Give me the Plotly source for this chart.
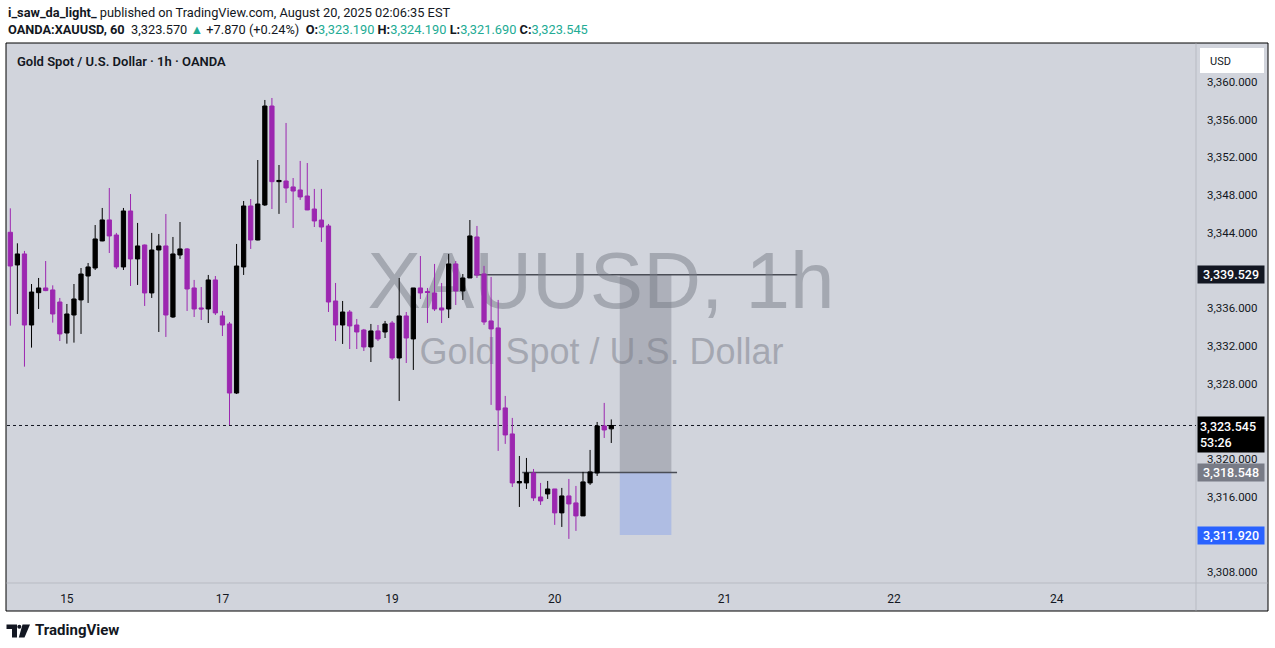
import plotly.graph_objects as go

# ---------------- data ----------------
opens = [3344.05, 3340.58, 3341.75, 3334.21, 3337.64, 3338.14, 3337.93, 3336.65, 3333.36, 3335.27,
         3336.87, 3339.41, 3340.26, 3343.13, 3345.36, 3343.76, 3340.37, 3346.31, 3341.22, 3342.70,
         3337.61, 3342.17, 3342.60, 3335.06, 3341.64, 3342.28, 3338.14, 3336.02, 3335.91, 3338.99,
         3335.17, 3334.32, 3326.99, 3340.37, 3346.84, 3343.23, 3346.95, 3357.45, 3349.42, 3349.49,
         3348.86, 3348.54, 3347.90, 3346.52, 3345.35, 3344.72, 3336.76, 3334.21, 3335.59, 3334.21,
         3333.68, 3331.88, 3333.58, 3333.47, 3334.42, 3330.71, 3335.17, 3332.73, 3338.14, 3337.76,
         3337.61, 3336.02, 3335.91, 3340.69, 3337.82, 3339.20, 3343.55, 3339.63, 3334.64, 3333.90,
         3325.41, 3322.65, 3317.45, 3317.45, 3318.51, 3315.96, 3316.28, 3316.81, 3314.27, 3316.07,
         3315.33, 3313.95, 3317.45, 3318.51, 3323.50, 3323.19]
highs = [3346.59, 3342.88, 3342.07, 3338.56, 3339.20, 3341.00, 3338.42, 3337.08, 3336.44, 3338.56,
         3340.26, 3340.79, 3344.82, 3346.63, 3348.75, 3343.98, 3346.63, 3348.11, 3345.04, 3342.75,
         3343.98, 3343.87, 3345.99, 3343.55, 3345.14, 3342.38, 3338.99, 3338.24, 3339.52, 3339.41,
         3335.70, 3334.53, 3342.81, 3347.37, 3347.58, 3351.72, 3358.09, 3358.30, 3351.19, 3355.65,
         3349.81, 3351.62, 3351.40, 3348.65, 3348.65, 3344.93, 3338.67, 3336.76, 3335.80, 3334.85,
         3333.79, 3334.32, 3334.21, 3334.64, 3334.64, 3339.20, 3335.59, 3338.14, 3341.53, 3338.14,
         3340.69, 3338.67, 3341.75, 3341.00, 3339.62, 3345.35, 3344.72, 3340.48, 3339.31, 3336.87,
         3326.68, 3324.35, 3320.31, 3320.10, 3318.93, 3317.45, 3317.66, 3316.81, 3316.92, 3317.87,
         3317.13, 3318.62, 3320.95, 3323.92, 3325.94, 3324.19]
lows = [3334.14, 3335.38, 3329.79, 3331.81, 3335.91, 3337.80, 3334.46, 3332.51, 3332.23, 3332.34,
        3333.26, 3336.55, 3340.05, 3343.10, 3341.85, 3340.16, 3340.05, 3338.35, 3338.46, 3336.23,
        3337.08, 3333.47, 3332.94, 3334.96, 3341.22, 3335.70, 3335.06, 3334.74, 3334.42, 3335.27,
        3333.04, 3323.60, 3326.89, 3339.52, 3342.28, 3343.20, 3346.84, 3346.52, 3346.00, 3347.16,
        3344.51, 3347.48, 3346.40, 3344.61, 3343.02, 3335.59, 3332.51, 3332.20, 3331.66, 3331.66,
        3331.45, 3330.28, 3332.51, 3332.83, 3330.50, 3326.15, 3330.18, 3329.44, 3336.97, 3334.42,
        3335.70, 3334.42, 3334.95, 3336.33, 3336.86, 3339.20, 3339.20, 3334.22, 3325.73, 3320.85,
        3321.59, 3317.02, 3314.90, 3316.81, 3315.54, 3315.11, 3315.75, 3313.00, 3312.78, 3311.51,
        3312.36, 3313.95, 3317.24, 3318.19, 3322.22, 3321.69]
closes = [3340.47, 3341.75, 3334.21, 3337.71, 3338.14, 3337.86, 3335.38, 3333.26, 3335.38, 3336.97,
          3339.62, 3340.37, 3343.34, 3345.36, 3343.66, 3340.37, 3346.31, 3341.22, 3342.60, 3337.61,
          3342.17, 3342.60, 3335.27, 3341.75, 3342.28, 3338.03, 3335.91, 3335.91, 3338.99, 3335.49,
          3334.21, 3326.99, 3340.47, 3346.84, 3343.23, 3347.05, 3357.45, 3349.42, 3349.55, 3348.75,
          3348.43, 3347.80, 3346.42, 3345.25, 3344.61, 3336.65, 3334.21, 3335.59, 3334.11, 3333.47,
          3331.88, 3333.58, 3332.73, 3334.32, 3330.71, 3335.17, 3332.83, 3338.14, 3337.61, 3337.66,
          3335.91, 3335.80, 3340.69, 3337.82, 3339.20, 3343.66, 3339.52, 3334.53, 3333.79, 3325.20,
          3322.54, 3317.45, 3317.60, 3318.51, 3315.86, 3315.54, 3316.81, 3314.27, 3316.07, 3315.22,
          3313.95, 3317.56, 3318.62, 3323.50, 3323.07, 3323.545]
bars = list(range(len(opens)))

day_labels = ["15", "17", "19", "20", "21", "22", "24"]
day_label_bars = [8, 30, 54, 77, 101, 125, 148]

price_ticks = [3308, 3316, 3320, 3324, 3328, 3332, 3336, 3340, 3344, 3348, 3352, 3356, 3360]

level_prices = [3339.529, 3318.548]
level_start_bars = [65.6, 72.4]
level_end_bars = [111.3, 94.3]
zone_bars = [86.2, 93.5]
zone_top, zone_mid, zone_bottom = 3339.529, 3318.548, 3311.920
last_price = 3323.545
countdown = "53:26"

# ---------------- geometry helpers ----------------
W, H = 1275, 648
L, R, T, B = 7, 1196, 44, 583
XR = [-0.47, 167.7]
YR = [3306.83, 3364.03]


def fx(p):
    return (p - L) / (R - L)


def fy(p):
    return (B - p) / (B - T)


def dx(p):
    return XR[0] + (p - L) / (R - L) * (XR[1] - XR[0])


def dy(p):
    return YR[1] - (p - T) / (B - T) * (YR[1] - YR[0])


UI = "Roboto, 'Open Sans', sans-serif"
TXT = "#131722"
BG = "#d1d4dc"
UP = "#000000"
DOWN = "#9c27b0"
TEAL = "#22ab94"

fig = go.Figure()

# watermark (under candles: main axes; candles on overlaid axes)
fig.add_trace(go.Scatter(
    x=[dx(601), dx(601.5)], y=[dy(288), dy(355)],
    mode="text", text=["XAUUSD, 1h", "Gold Spot / U.S. Dollar"],
    textposition="middle center",
    textfont=dict(family="'Liberation Sans', Arial, sans-serif", size=[80, 36],
                  color="rgba(120,123,134,0.5)"),
    hoverinfo="skip", showlegend=False, xaxis="x", yaxis="y"))

fig.add_trace(go.Candlestick(
    x=bars, open=opens, high=highs, low=lows, close=closes,
    increasing=dict(line=dict(color=UP, width=1), fillcolor=UP),
    decreasing=dict(line=dict(color=DOWN, width=1), fillcolor=DOWN),
    whiskerwidth=0, showlegend=False, xaxis="x2", yaxis="y2"))

shapes = []
# frame / background
shapes.append(dict(type="rect", xref="paper", yref="paper", x0=fx(6), x1=fx(1268), y0=fy(611), y1=fy(43),
                   fillcolor=BG, line=dict(color="#000000", width=1), layer="below"))
shapes.append(dict(type="line", xref="paper", yref="paper", x0=fx(1196), x1=fx(1196), y0=fy(610.5), y1=fy(43.5),
                   line=dict(color="#b8bbc3", width=1), layer="below"))
shapes.append(dict(type="line", xref="paper", yref="paper", x0=fx(6.5), x1=fx(1267.5), y0=fy(583), y1=fy(583),
                   line=dict(color="#b8bbc3", width=1), layer="below"))
# zones
shapes.append(dict(type="rect", xref="x", yref="y", x0=zone_bars[0], x1=zone_bars[1], y0=zone_mid, y1=zone_top,
                   fillcolor="rgba(120,123,134,0.4)", line=dict(width=0), layer="below"))
shapes.append(dict(type="rect", xref="x", yref="y", x0=zone_bars[0], x1=zone_bars[1], y0=zone_bottom, y1=zone_mid,
                   fillcolor="rgba(41,98,255,0.2)", line=dict(width=0), layer="below"))
# horizontal levels
for p, a, b in zip(level_prices, level_start_bars, level_end_bars):
    shapes.append(dict(type="line", xref="x", yref="y", x0=a, x1=b, y0=p, y1=p,
                       line=dict(color="#4a4d56", width=1.5), layer="below"))
# last price dotted line
shapes.append(dict(type="line", xref="paper", yref="y", x0=0, x1=1, y0=last_price, y1=last_price,
                   line=dict(color=TXT, width=1, dash="dot"), layer="below"))
# USD box
shapes.append(dict(type="rect", xref="paper", yref="paper", x0=fx(1200), x1=fx(1264), y0=fy(73), y1=fy(48),
                   fillcolor="#ffffff", line=dict(width=0), layer="above"))
# TradingView logo
shapes.append(dict(type="path", xref="paper", yref="paper", layer="above",
                   path=f"M {fx(6.5)},{fy(624.5)} L {fx(17)},{fy(624.5)} L {fx(17)},{fy(637.5)} "
                        f"L {fx(12)},{fy(637.5)} L {fx(12)},{fy(629)} L {fx(6.5)},{fy(629)} Z",
                   fillcolor=TXT, line=dict(width=0)))
shapes.append(dict(type="circle", xref="paper", yref="paper", layer="above",
                   x0=fx(17.3), x1=fx(21.3), y0=fy(628.8), y1=fy(624.8), fillcolor=TXT, line=dict(width=0)))
shapes.append(dict(type="path", xref="paper", yref="paper", layer="above",
                   path=f"M {fx(22.5)},{fy(624.5)} L {fx(30)},{fy(624.5)} L {fx(24.5)},{fy(637.5)} "
                        f"L {fx(18.8)},{fy(637.5)} Z",
                   fillcolor=TXT, line=dict(width=0)))

annotations = []
# header
annotations.append(dict(xref="paper", yref="paper", x=fx(6), y=fy(12), xanchor="left", yanchor="middle",
                        showarrow=False, font=dict(family=UI, size=12.8, color=TXT),
                        text="<b>i_saw_da_light_</b> published on TradingView.com, August 20, 2025 02:06:35 EST"))
hdr2 = (f"<b>OANDA:XAUUSD, 60</b>  3,323.570 <span style='color:{TEAL}'>▲</span> +7.870 (+0.24%)  "
        f"<b>O:</b><span style='color:{TEAL}'>3,323.190</span> "
        f"<b>H:</b><span style='color:{TEAL}'>3,324.190</span> "
        f"<b>L:</b><span style='color:{TEAL}'>3,321.690</span> "
        f"<b>C:</b><span style='color:{TEAL}'>3,323.545</span>")
annotations.append(dict(xref="paper", yref="paper", x=fx(6), y=fy(29), xanchor="left", yanchor="middle",
                        showarrow=False, font=dict(family=UI, size=12.8, color=TXT), text=hdr2))
# chart title
annotations.append(dict(xref="paper", yref="paper", x=fx(15), y=fy(61), xanchor="left", yanchor="middle",
                        showarrow=False, font=dict(family=UI, size=13, color=TXT, weight=600),
                        text="Gold Spot / U.S. Dollar · 1h · OANDA"))
# USD
annotations.append(dict(xref="paper", yref="paper", x=fx(1208), y=fy(61), xanchor="left", yanchor="middle",
                        showarrow=False, font=dict(family=UI, size=11, color=TXT), text="USD"))
# footer
annotations.append(dict(xref="paper", yref="paper", x=fx(33), y=fy(630), xanchor="left", yanchor="middle",
                        showarrow=False, font=dict(family=UI, size=15, color=TXT, weight=700),
                        text="TradingView"))
# price tags
tags = [(level_prices[0], f"{level_prices[0]:,.3f}", "#131722"),
        (level_prices[1], f"{level_prices[1]:,.3f}", "#787b86"),
        (zone_bottom, f"{zone_bottom:,.3f}", "#2962ff")]
for p, t, c in tags:
    annotations.append(dict(xref="paper", yref="y", x=fx(1197), y=p, xanchor="left", yanchor="middle",
                            showarrow=False, text=t, align="center", width=62, height=13,
                            bgcolor=c, borderpad=2,
                            font=dict(family=UI, size=12.5, color="#ffffff", weight=500)))
annotations.append(dict(xref="paper", yref="y", x=fx(1197), y=last_price, xanchor="left", yanchor="top",
                        yshift=9, showarrow=False, text=f"{last_price:,.3f}<br>{countdown}", align="left",
                        width=62, bgcolor="#000000", borderpad=2,
                        font=dict(family=UI, size=12.5, color="#ffffff", weight=500)))

fig.update_layout(
    width=W, height=H,
    margin=dict(l=L, r=W - R, t=T, b=H - B, pad=0),
    paper_bgcolor="#ffffff", plot_bgcolor="rgba(0,0,0,0)",
    showlegend=False, boxgap=0.4, boxgroupgap=0,
    shapes=shapes, annotations=annotations,
    xaxis=dict(range=XR, tickvals=day_label_bars, ticktext=day_labels, showgrid=False, zeroline=False,
               showline=False, ticks="", ticklabelstandoff=7, tickfont=dict(family=UI, size=12, color=TXT),
               rangeslider=dict(visible=False), fixedrange=True),
    yaxis=dict(range=YR, side="right", tickvals=price_ticks, tickformat=",.3f", showgrid=False,
               zeroline=False, showline=False, ticks="", ticklabelstandoff=10,
               tickfont=dict(family=UI, size=11.5, color=TXT), fixedrange=True),
    xaxis2=dict(range=XR, overlaying="x", visible=False, rangeslider=dict(visible=False), fixedrange=True),
    yaxis2=dict(range=YR, overlaying="y", visible=False, fixedrange=True),
)

fig.write_html("out.html", config={"displayModeBar": False},
               post_script="document.body.style.margin='0';document.body.style.padding='0';")
